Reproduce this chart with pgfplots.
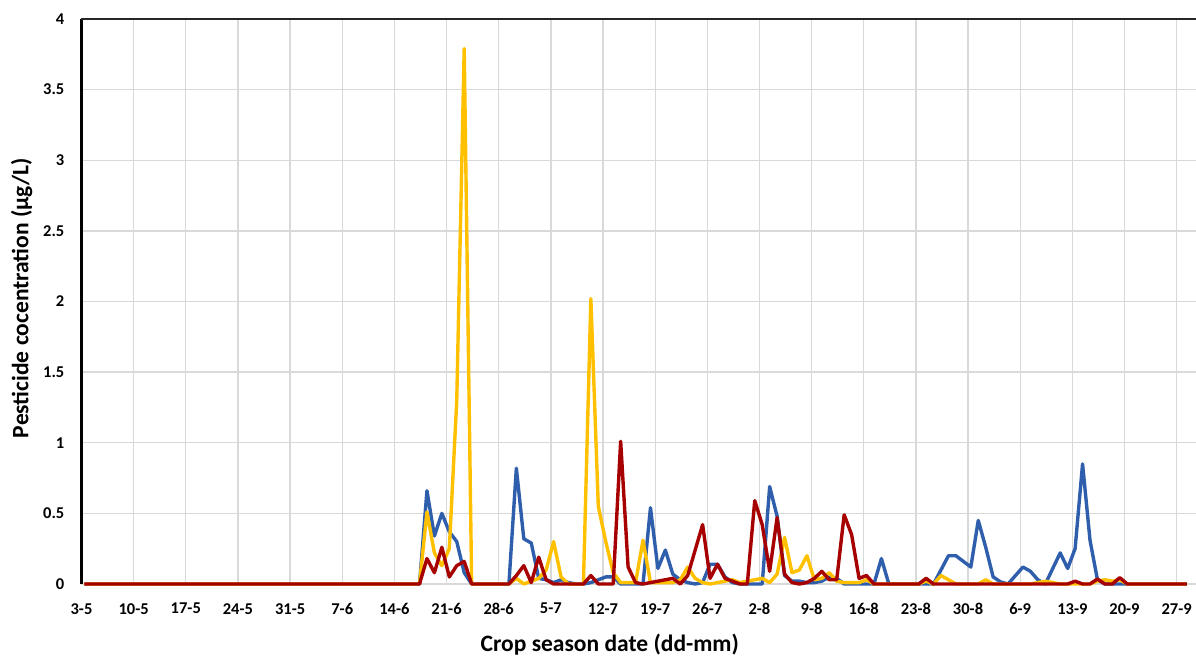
\documentclass[border=0pt]{standalone}
\usepackage{fontspec}
\setmainfont{Carlito}
\usepackage{pgfplots}
\usepackage{pgfplotstable}
\pgfplotsset{compat=1.18}
\definecolor{cblue}{RGB}{47,95,172}
\definecolor{cyel}{RGB}{255,192,0}
\definecolor{cred}{RGB}{166,0,0}
\definecolor{cgrid}{RGB}{217,217,217}
\pgfplotstableread{
d B Y R
0 0 0 0
44 0 0 0
45 0 0 0
46 0.66 0.51 0.18
47 0.34 0.22 0.08
48 0.50 0.13 0.26
49 0.37 0.25 0.05
50 0.30 1.30 0.13
51 0.08 3.79 0.16
52 0 0 0
53 0 0 0
54 0 0 0
55 0 0 0
56 0 0 0
57 0 0 0
58 0.82 0.04 0.06
59 0.32 0.00 0.13
60 0.29 0.02 0.01
61 0.04 0.04 0.19
62 0.03 0.10 0.03
63 0.01 0.30 0.00
64 0.03 0.05 0.00
65 0.01 0.00 0.00
66 0.00 0.00 0.00
67 0.00 0.00 0.00
68 0.01 2.02 0.06
69 0.03 0.55 0.00
70 0.05 0.30 0.00
71 0.05 0.08 0.00
72 0.00 0.01 1.01
73 0.00 0.01 0.12
74 0.00 0.01 0.01
75 0.00 0.31 0.00
76 0.54 0.01 0.01
77 0.11 0.01 0.02
78 0.24 0.01 0.03
79 0.07 0.01 0.04
80 0.03 0.03 0.00
81 0.01 0.12 0.06
82 0.00 0.04 0.24
83 0.01 0.01 0.42
84 0.14 0.00 0.04
85 0.14 0.01 0.14
86 0.05 0.02 0.04
87 0.01 0.03 0.02
88 0.00 0.01 0.00
89 0.00 0.02 0.00
90 0.00 0.03 0.59
91 0.00 0.04 0.42
92 0.69 0.01 0.09
93 0.48 0.07 0.47
94 0.06 0.33 0.07
95 0.02 0.08 0.01
96 0.02 0.10 0.00
97 0.01 0.20 0.01
98 0.01 0.03 0.04
99 0.02 0.04 0.09
100 0.05 0.08 0.03
101 0.04 0.02 0.03
102 0.00 0.01 0.49
103 0.00 0.01 0.35
104 0.00 0.01 0.04
105 0.00 0.03 0.06
106 0.00 0.00 0.00
107 0.18 0.00 0.00
108 0.00 0.00 0.00
109 0.00 0.00 0.00
110 0.00 0.00 0.00
111 0.00 0.00 0.00
112 0.00 0.00 0.00
113 0.00 0.02 0.04
114 0.00 0.00 0.00
115 0.10 0.06 0.00
116 0.20 0.03 0.00
117 0.20 0.00 0.00
118 0.16 0.00 0.00
119 0.12 0.00 0.00
120 0.45 0.00 0.00
121 0.26 0.03 0.00
122 0.05 0.00 0.00
123 0.015 0.00 0.00
124 0.00 0.00 0.00
125 0.06 0.00 0.00
126 0.12 0.00 0.00
127 0.09 0.00 0.00
128 0.03 0.01 0.00
129 0.00 0.02 0.00
130 0.11 0.01 0.00
131 0.22 0.00 0.00
132 0.11 0.00 0.00
133 0.25 0.00 0.02
134 0.85 0.00 0.00
135 0.31 0.00 0.00
136 0.03 0.02 0.035
137 0.00 0.03 0.00
138 0.00 0.02 0.00
139 0.00 0.03 0.045
140 0.00 0.00 0.00
141 0.00 0.00 0.00
148 0.00 0.00 0.00
}\data
\begin{document}
\begin{tikzpicture}
\useasboundingbox (-81.5bp,-73bp) rectangle (1114.5bp,584bp);
\begin{axis}[
  at={(0,0)}, anchor=south west,
  x=7.45bp, y=141.25bp,
  xmin=0, xmax=149.6, ymin=0, ymax=4,
  clip=false,
  axis lines=left,
  axis line style={-},
  x axis line style={draw=cgrid, line width=1.5bp},
  y axis line style={draw=black, line width=2.2bp},
  xtick={0,7,...,147},
  xticklabels={3-5,10-5,17-5,24-5,31-5,7-6,14-6,21-6,28-6,5-7,12-7,19-7,26-7,2-8,9-8,16-8,23-8,30-8,6-9,13-9,20-9,27-9},
  ytick={0,0.5,...,4},
  extra y ticks={4},
  extra y tick labels={},
  extra y tick style={grid style={draw=black!85, line width=2.2bp}},
  major tick length=0pt,
  grid=major,
  grid style={draw=cgrid, line width=1.3bp},
  /pgf/number format/assume math mode=true,
  ticklabel style={font=\fontsize{16.5bp}{18bp}\selectfont\bfseries, inner sep=0pt},
  xticklabel style={anchor=north, yshift=-19bp},
  yticklabel style={anchor=east, xshift=-17bp},
  every axis x label/.style={at={(axis description cs:0.474,-0.108)}, anchor=center},
  every axis y label/.style={at={(axis description cs:-0.0538,0.506)}, rotate=90, anchor=center},
  label style={font=\fontsize{23.5bp}{26bp}\selectfont\bfseries},
  xlabel={Crop season date (dd-mm)},
  ylabel={Pesticide cocentration (µg/L)},
  every axis plot/.append style={line width=3.4bp, line join=round, no markers},
]
\addplot[cblue] table[x expr=\thisrow{d}+0.37, y=B] {\data};
\addplot[cyel] table[x expr=\thisrow{d}+0.37, y=Y] {\data};
\addplot[cred] table[x expr=\thisrow{d}+0.37, y=R] {\data};
\end{axis}
\end{tikzpicture}
\end{document}
